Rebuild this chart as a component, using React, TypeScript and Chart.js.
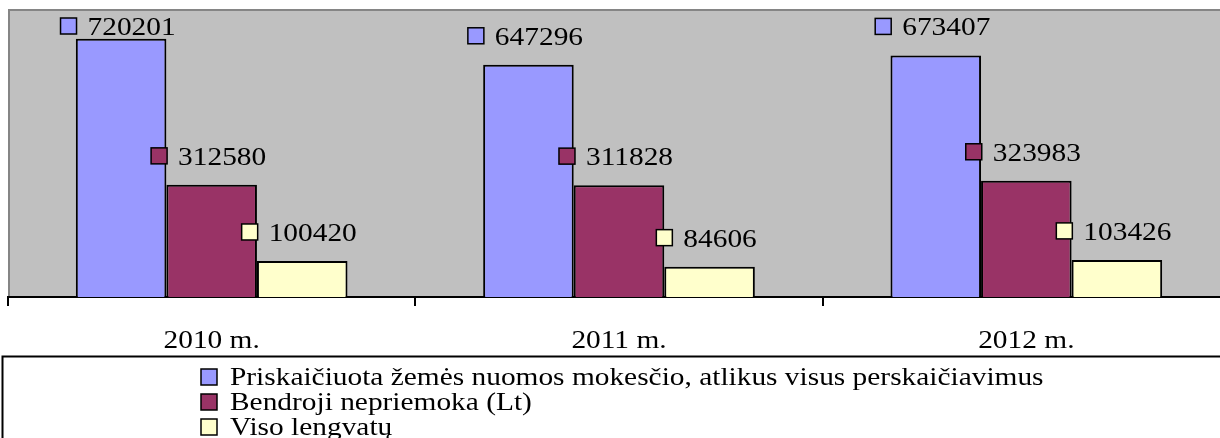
import React, { useEffect, useRef } from 'react';
import { Chart, registerables } from 'chart.js';

Chart.register(...registerables);

const categories = ['2010 m.', '2011 m.', '2012 m.'];
const seriesNames = [
  'Priskaičiuota žemės nuomos mokesčio, atlikus visus perskaičiavimus',
  'Bendroji nepriemoka (Lt)',
  'Viso lengvatų',
];
const assessed = [720201, 647296, 673407];
const arrears = [312580, 311828, 323983];
const reliefs = [100420, 84606, 103426];
const seriesColors = ['#9999FF', '#993366', '#FFFFCC'];
const yMax = 800000;

const FONT = '26px "Liberation Serif", "Times New Roman", serif';
const SX = 1.13;

function textW(ctx: CanvasRenderingContext2D, t: string) {
  return ctx.measureText(t).width * SX;
}
function drawText(ctx: CanvasRenderingContext2D, t: string, x: number, y: number) {
  ctx.save();
  ctx.translate(x, y);
  ctx.scale(SX, 1);
  ctx.fillText(t, 0, 0);
  ctx.restore();
}
function drawKey(ctx: CanvasRenderingContext2D, x: number, y: number, color: string) {
  ctx.save();
  ctx.fillStyle = color;
  ctx.fillRect(x, y, 16, 16);
  ctx.strokeStyle = '#000';
  ctx.lineWidth = 1.5;
  ctx.strokeRect(x, y, 16, 16);
  ctx.restore();
}

const decorPlugin = {
  id: 'decor',
  beforeDraw(chart: any) {
    const { ctx, chartArea: a } = chart;
    ctx.save();
    ctx.fillStyle = '#C0C0C0';
    ctx.fillRect(a.left, a.top, a.right - a.left, a.bottom - a.top);
    ctx.strokeStyle = '#858585';
    ctx.lineWidth = 2;
    ctx.beginPath();
    ctx.moveTo(a.left + 1, a.bottom);
    ctx.lineTo(a.left + 1, a.top);
    ctx.lineTo(a.right, a.top);
    ctx.stroke();
    ctx.restore();
  },
  afterDraw(chart: any) {
    const { ctx, chartArea: a } = chart;
    ctx.save();
    ctx.font = FONT;
    ctx.fillStyle = '#000';
    ctx.textBaseline = 'alphabetic';
    ctx.textAlign = 'left';
    // data labels
    chart.data.datasets.forEach((ds: any, i: number) => {
      const meta = chart.getDatasetMeta(i);
      meta.data.forEach((bar: any, j: number) => {
        const txt = String(ds.data[j]);
        const tw = textW(ctx, txt);
        const groupW = 17 + 10 + tw;
        const left = bar.x - 3 - groupW / 2;
        const cy = Math.max(bar.y - 29, a.top + 16);
        drawKey(ctx, left, cy - 8, ds.backgroundColor);
        drawText(ctx, txt, left + 27, cy + 9);
      });
    });
    // category labels
    const xs = chart.scales.x;
    chart.data.labels.forEach((lab: string, j: number) => {
      const cx = xs.getPixelForValue(j);
      const w = textW(ctx, lab);
      drawText(ctx, lab, cx - w / 2, 347.5);
    });
    // legend box
    ctx.strokeStyle = '#000';
    ctx.lineWidth = 2;
    ctx.strokeRect(2.5, 356.5, 1400, 200);
    chart.data.datasets.forEach((ds: any, i: number) => {
      const base = 385 + i * 25;
      drawKey(ctx, 201, base - 16, ds.backgroundColor);
      drawText(ctx, ds.label, 230, base);
    });
    ctx.restore();
  },
};

export default function App() {
  const ref = useRef<HTMLCanvasElement | null>(null);
  useEffect(() => {
    if (!ref.current) return;
    const data = [assessed, arrears, reliefs];
    const chart = new Chart(ref.current, {
      type: 'bar',
      data: {
        labels: categories,
        datasets: data.map((d, i) => ({
          label: seriesNames[i],
          data: d,
          backgroundColor: seriesColors[i],
          borderColor: '#000',
          borderWidth: 2,
          barPercentage: 1,
          categoryPercentage: 0.667,
        })),
      },
      options: {
        animation: false,
        responsive: false,
        devicePixelRatio: 1,
        layout: { padding: { top: 10, left: 8, right: 10, bottom: 132 } },
        plugins: { legend: { display: false }, tooltip: { enabled: false } },
        scales: {
          x: {
            offset: true,
            grid: {
              offset: true,
              drawOnChartArea: false,
              drawTicks: true,
              tickLength: 9,
              color: '#000',
              lineWidth: 2,
            },
            border: { display: true, color: '#000', width: 2 },
            ticks: { display: false },
          },
          y: { display: false, min: 0, max: yMax },
        },
      },
      plugins: [decorPlugin],
    });
    return () => chart.destroy();
  }, []);
  return (
    <div style={{ position: 'absolute', left: 0, top: 0, width: 1220, height: 438, overflow: 'hidden', background: '#fff' }}>
      <canvas ref={ref} width={1240} height={438} style={{ width: 1240, height: 438, display: 'block' }} />
    </div>
  );
}
